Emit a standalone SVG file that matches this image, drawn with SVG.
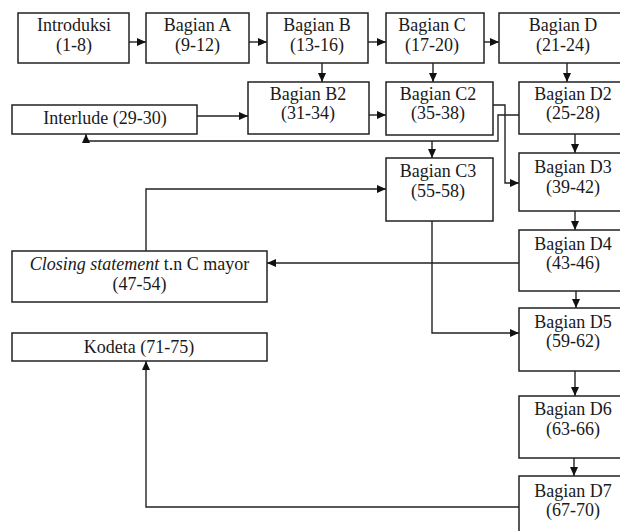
<svg xmlns="http://www.w3.org/2000/svg" width="620" height="531" viewBox="0 0 620 531">
<style>
.box{fill:#fff;stroke:#222;stroke-width:1.5}
.t{font-family:"Liberation Serif","Times New Roman",serif;font-size:18px;fill:#1a1a1a;text-anchor:middle}
.c{fill:none;stroke:#222;stroke-width:1.4}
</style>
<defs>
<marker id="ah" markerUnits="userSpaceOnUse" markerWidth="9" markerHeight="8" refX="9" refY="4" orient="auto">
<path d="M0,0 L9,4 L0,8 z" fill="#111"/>
</marker>
</defs>
<rect width="620" height="531" fill="#fff"/>
<g id="connectors">
<path class="c" marker-end="url(#ah)" d="M129,42 H146"/>
<path class="c" marker-end="url(#ah)" d="M249,42 H267"/>
<path class="c" marker-end="url(#ah)" d="M368,42 H386"/>
<path class="c" marker-end="url(#ah)" d="M484,42 H499"/>
<path class="c" marker-end="url(#ah)" d="M322,63 V82"/>
<path class="c" marker-end="url(#ah)" d="M433,63 V82"/>
<path class="c" marker-end="url(#ah)" d="M567,63 V82"/>
<path class="c" marker-end="url(#ah)" d="M197,116 H248"/>
<path class="c" marker-end="url(#ah)" d="M369,115 H386"/>
<path class="c" marker-end="url(#ah)" d="M493,105 H505 V183 H519"/>
<path class="c" marker-end="url(#ah)" d="M519,115 H498 V141 H86 V134"/>
<path class="c" marker-end="url(#ah)" d="M432,141 V158"/>
<path class="c" marker-end="url(#ah)" d="M146,251 V189 H386"/>
<path class="c" marker-end="url(#ah)" d="M575,134 V153"/>
<path class="c" marker-end="url(#ah)" d="M575,211 V230"/>
<path class="c" marker-end="url(#ah)" d="M519,263 H267"/>
<path class="c" marker-end="url(#ah)" d="M432,221 V333 H519"/>
<path class="c" marker-end="url(#ah)" d="M576,291 V308"/>
<path class="c" marker-end="url(#ah)" d="M575,371 V396"/>
<path class="c" marker-end="url(#ah)" d="M574,458 V476"/>
<path class="c" marker-end="url(#ah)" d="M519,507 H146 V361"/>
</g>
<g id="introduksi"><rect class="box" x="18" y="13" width="111" height="50"/><text class="t" x="74" y="31">Introduksi</text><text class="t" x="74" y="51">(1-8)</text></g>
<g id="bagian-a"><rect class="box" x="146" y="13" width="103" height="50"/><text class="t" x="197.5" y="31">Bagian A</text><text class="t" x="197.5" y="51">(9-12)</text></g>
<g id="bagian-b"><rect class="box" x="267" y="13" width="101" height="50"/><text class="t" x="317" y="31">Bagian B</text><text class="t" x="317" y="51">(13-16)</text></g>
<g id="bagian-c"><rect class="box" x="386" y="13" width="98" height="50"/><text class="t" x="432" y="31">Bagian C</text><text class="t" x="432" y="51">(17-20)</text></g>
<g id="bagian-d"><rect class="box" x="499" y="13" width="128" height="50"/><text class="t" x="563" y="31">Bagian D</text><text class="t" x="563" y="51">(21-24)</text></g>
<g id="bagian-b2"><rect class="box" x="248" y="82" width="121" height="52"/><text class="t" x="308" y="100">Bagian B2</text><text class="t" x="308" y="119">(31-34)</text></g>
<g id="bagian-c2"><rect class="box" x="386" y="82" width="107" height="53"/><text class="t" x="438" y="100">Bagian C2</text><text class="t" x="438" y="119">(35-38)</text></g>
<g id="bagian-d2"><rect class="box" x="519" y="82" width="108" height="52"/><text class="t" x="573" y="100">Bagian D2</text><text class="t" x="573" y="119">(25-28)</text></g>
<g id="interlude"><rect class="box" x="12" y="105" width="185" height="29"/><text class="t" x="105" y="124">Interlude (29-30)</text></g>
<g id="bagian-c3"><rect class="box" x="386" y="158" width="107" height="63"/><text class="t" x="438" y="177">Bagian C3</text><text class="t" x="438" y="197">(55-58)</text></g>
<g id="bagian-d3"><rect class="box" x="519" y="153" width="108" height="58"/><text class="t" x="573" y="173">Bagian D3</text><text class="t" x="573" y="193">(39-42)</text></g>
<g id="bagian-d4"><rect class="box" x="519" y="230" width="108" height="61"/><text class="t" x="573" y="250">Bagian D4</text><text class="t" x="573" y="269">(43-46)</text></g>
<g id="closing"><rect class="box" x="12" y="251" width="255" height="51"/><text class="t" x="139.5" y="270"><tspan font-style="italic">Closing statement</tspan> t.n C mayor</text><text class="t" x="139.5" y="290">(47-54)</text></g>
<g id="bagian-d5"><rect class="box" x="519" y="308" width="108" height="63"/><text class="t" x="573" y="328">Bagian D5</text><text class="t" x="573" y="347">(59-62)</text></g>
<g id="kodeta"><rect class="box" x="12" y="333" width="255" height="28"/><text class="t" x="139" y="353">Kodeta (71-75)</text></g>
<g id="bagian-d6"><rect class="box" x="519" y="396" width="108" height="62"/><text class="t" x="573" y="415">Bagian D6</text><text class="t" x="573" y="435">(63-66)</text></g>
<g id="bagian-d7"><rect class="box" x="519" y="476" width="108" height="60"/><text class="t" x="573" y="497">Bagian D7</text><text class="t" x="573" y="516">(67-70)</text></g>
</svg>
